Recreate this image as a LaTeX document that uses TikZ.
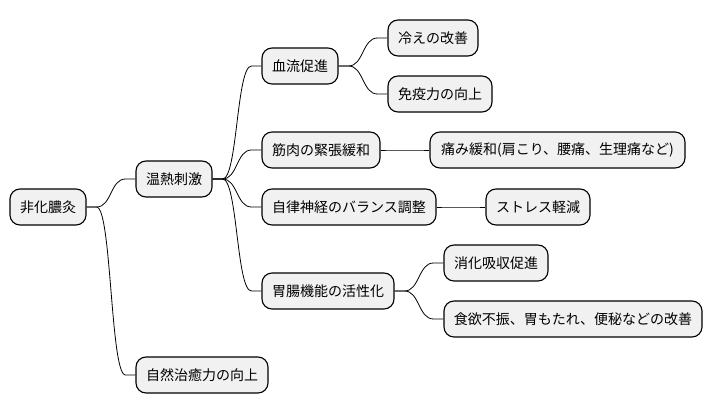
\documentclass[tikz,border=0pt]{standalone}
\usepackage{fontspec}
\setmainfont{Noto Sans CJK JP}
\usetikzlibrary{calc}
\definecolor{nodefill}{HTML}{F1F1F1}
\tikzset{
  mm/.style={draw=black, line width=1.1pt, fill=nodefill, rounded corners=10pt,
    minimum height=36pt, inner sep=0pt, font=\fontsize{14pt}{16pt}\selectfont, anchor=center},
  conn/.style={draw=black, line width=0.8pt}
}
\newcommand\mmconn[2]{%
  \draw[conn] (#1.east) -- ($(#1.east)+(10pt,0)$) .. controls ($(#1.east)+(25pt,0)$) and ($(#2.west)+(-25pt,0)$) .. ($(#2.west)+(-10pt,0)$) -- (#2.west);}
\begin{document}
\begin{tikzpicture}[x=1pt,y=1pt]
\useasboundingbox (0,0) rectangle (712,-415);
\node[mm, minimum width=76pt] (root) at (48,-207) {非化膿灸};
\node[mm, minimum width=76pt] (onnetsu) at (174,-179) {温熱刺激};
\node[mm, minimum width=132pt] (shizen) at (202,-375) {自然治癒力の向上};
\node[mm, minimum width=76pt] (ketsu) at (300,-66) {血流促進};
\node[mm, minimum width=118pt] (kin) at (321,-150) {筋肉の緊張緩和};
\node[mm, minimum width=174pt] (jiri) at (349,-207) {自律神経のバランス調整};
\node[mm, minimum width=132pt] (ichou) at (328,-291) {胃腸機能の活性化};
\node[mm, minimum width=90pt] (hie) at (433,-38) {冷えの改善};
\node[mm, minimum width=104pt] (men) at (440,-94) {免疫力の向上};
\node[mm, minimum width=255pt] (itami) at (557.5,-150) {痛み緩和(肩こり、腰痛、生理痛など)};
\node[mm, minimum width=104pt] (stress) at (538,-207) {ストレス軽減};
\node[mm, minimum width=104pt] (shouka) at (496,-263) {消化吸収促進};
\node[mm, minimum width=258pt] (shoku) at (573,-319) {食欲不振、胃もたれ、便秘などの改善};
\mmconn{root}{onnetsu}
\mmconn{root}{shizen}
\mmconn{onnetsu}{ketsu}
\mmconn{onnetsu}{kin}
\mmconn{onnetsu}{jiri}
\mmconn{onnetsu}{ichou}
\mmconn{ketsu}{hie}
\mmconn{ketsu}{men}
\mmconn{kin}{itami}
\mmconn{jiri}{stress}
\mmconn{ichou}{shouka}
\mmconn{ichou}{shoku}
\end{tikzpicture}
\end{document}
